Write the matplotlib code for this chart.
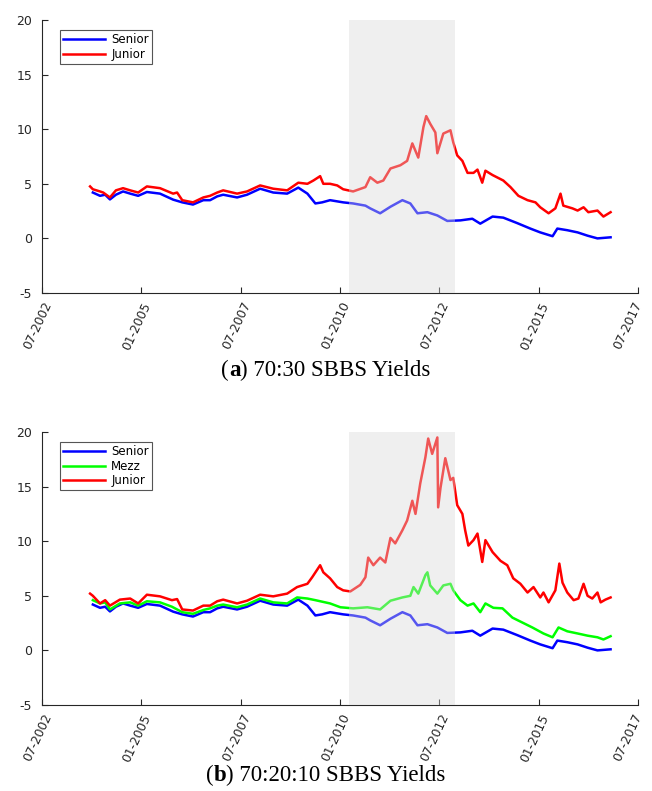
import matplotlib
matplotlib.use('Agg')
import matplotlib.pyplot as plt
from matplotlib.transforms import ScaledTranslation

# ---------------- data (decimal years, yields in %) ----------------
senior_t = [2003.78, 2003.96, 2004.09, 2004.21, 2004.36, 2004.54, 2004.72, 2004.92, 2005.14,
            2005.47, 2005.80, 2006.03, 2006.30, 2006.56, 2006.73, 2006.91, 2007.06, 2007.41,
            2007.66, 2007.99, 2008.32, 2008.67, 2008.95, 2009.18, 2009.38, 2009.55, 2009.75,
            2010.08, 2010.33, 2010.64, 2010.76, 2011.01, 2011.27, 2011.57, 2011.77, 2011.95,
            2012.20, 2012.45, 2012.70, 2013.03, 2013.33, 2013.53, 2013.84, 2014.11, 2014.46,
            2014.79, 2015.04, 2015.35, 2015.47, 2015.72, 2015.98, 2016.23, 2016.48, 2016.81]
senior = [4.2, 3.9, 4.0, 3.57, 4.0, 4.3, 4.1, 3.9, 4.25,
          4.1, 3.55, 3.3, 3.1, 3.5, 3.5, 3.85, 4.0, 3.75,
          4.0, 4.55, 4.2, 4.1, 4.65, 4.1, 3.2, 3.3, 3.5,
          3.3, 3.2, 3.0, 2.75, 2.3, 2.9, 3.5, 3.2, 2.3,
          2.4, 2.1, 1.6, 1.65, 1.8, 1.35, 2.0, 1.9, 1.4,
          0.9, 0.55, 0.2, 0.9, 0.75, 0.55, 0.25, 0.0, 0.1]

junior_a_t = [2003.71, 2003.78, 2003.96, 2004.04, 2004.21, 2004.36, 2004.54, 2004.72, 2004.92,
              2005.14, 2005.47, 2005.80, 2005.90, 2006.03, 2006.30, 2006.56, 2006.73, 2006.91,
              2007.06, 2007.41, 2007.66, 2007.99, 2008.32, 2008.67, 2008.95, 2009.18, 2009.33,
              2009.50, 2009.58, 2009.75, 2009.93, 2010.08, 2010.33, 2010.64, 2010.76, 2010.94,
              2011.09, 2011.27, 2011.52, 2011.69, 2011.82, 2011.97, 2012.10, 2012.17, 2012.27,
              2012.40, 2012.45, 2012.60, 2012.78, 2012.85, 2012.95, 2013.08, 2013.21, 2013.36,
              2013.46, 2013.58, 2013.66, 2013.84, 2014.11, 2014.29, 2014.49, 2014.72, 2014.92,
              2015.04, 2015.25, 2015.42, 2015.55, 2015.62, 2015.85, 2015.98, 2016.13, 2016.25,
              2016.48, 2016.63, 2016.81]
junior_a = [4.76, 4.5, 4.3, 4.2, 3.75, 4.4, 4.6, 4.4, 4.2,
            4.76, 4.6, 4.1, 4.2, 3.5, 3.3, 3.75, 3.9, 4.2,
            4.4, 4.1, 4.3, 4.85, 4.55, 4.4, 5.1, 5.0, 5.3,
            5.7, 5.0, 5.0, 4.85, 4.5, 4.3, 4.7, 5.6, 5.1,
            5.3, 6.4, 6.7, 7.1, 8.7, 7.4, 10.2, 11.2, 10.5,
            9.7, 7.8, 9.6, 9.9, 8.8, 7.6, 7.1, 6.0, 6.0,
            6.3, 5.1, 6.2, 5.8, 5.3, 4.7, 3.9, 3.5, 3.3,
            2.85, 2.3, 2.75, 4.1, 3.0, 2.75, 2.55, 2.85, 2.4,
            2.55, 2.0, 2.4]

mezz_t = [2003.78, 2003.96, 2004.09, 2004.21, 2004.46, 2004.72, 2004.92, 2005.14, 2005.47,
          2005.77, 2006.03, 2006.30, 2006.56, 2006.73, 2006.91, 2007.06, 2007.41, 2007.66,
          2007.99, 2008.32, 2008.67, 2008.92, 2009.18, 2009.38, 2009.75, 2010.01, 2010.33,
          2010.69, 2011.01, 2011.27, 2011.57, 2011.77, 2011.85, 2011.97, 2012.15, 2012.20,
          2012.27, 2012.45, 2012.60, 2012.78, 2012.85, 2013.03, 2013.21, 2013.36, 2013.53,
          2013.66, 2013.86, 2014.09, 2014.34, 2014.59, 2014.84, 2015.12, 2015.35, 2015.50,
          2015.72, 2015.98, 2016.23, 2016.48, 2016.63, 2016.81]
mezz = [4.6, 4.3, 4.4, 3.75, 4.3, 4.4, 4.1, 4.5, 4.4,
        4.0, 3.5, 3.35, 3.7, 3.85, 4.1, 4.2, 3.95, 4.2,
        4.75, 4.4, 4.3, 4.85, 4.75, 4.6, 4.3, 3.95, 3.85,
        3.95, 3.75, 4.55, 4.85, 5.0, 5.8, 5.2, 6.9, 7.15,
        5.95, 5.2, 5.95, 6.1, 5.5, 4.6, 4.1, 4.3, 3.5,
        4.3, 3.9, 3.85, 3.0, 2.55, 2.1, 1.55, 1.2, 2.1,
        1.75, 1.55, 1.35, 1.2, 1.0, 1.3]

junior_b_t = [2003.71, 2003.78, 2003.96, 2004.09, 2004.21, 2004.46, 2004.72, 2004.92, 2005.14,
              2005.47, 2005.77, 2005.90, 2006.03, 2006.30, 2006.56, 2006.73, 2006.91, 2007.06,
              2007.41, 2007.66, 2007.99, 2008.32, 2008.67, 2008.92, 2009.18, 2009.30, 2009.50,
              2009.58, 2009.75, 2009.93, 2010.08, 2010.26, 2010.51, 2010.64, 2010.71, 2010.84,
              2011.01, 2011.14, 2011.27, 2011.39, 2011.57, 2011.69, 2011.82, 2011.90, 2012.02,
              2012.15, 2012.22, 2012.32, 2012.45, 2012.47, 2012.53, 2012.65, 2012.78, 2012.85,
              2012.95, 2013.08, 2013.15, 2013.23, 2013.36, 2013.46, 2013.58, 2013.66, 2013.84,
              2014.04, 2014.21, 2014.36, 2014.54, 2014.72, 2014.87, 2015.04, 2015.12, 2015.25,
              2015.42, 2015.52, 2015.60, 2015.72, 2015.88, 2016.00, 2016.13, 2016.23, 2016.35,
              2016.48, 2016.56, 2016.68, 2016.81]
junior_b = [5.2, 5.0, 4.3, 4.6, 4.1, 4.65, 4.75, 4.3, 5.1,
            4.95, 4.6, 4.7, 3.75, 3.65, 4.1, 4.1, 4.5, 4.65,
            4.3, 4.55, 5.1, 4.95, 5.2, 5.8, 6.1, 6.7, 7.8,
            7.15, 6.6, 5.8, 5.5, 5.4, 6.0, 6.7, 8.5, 7.8,
            8.5, 8.05, 10.3, 9.8, 11.0, 11.9, 13.7, 12.5, 15.3,
            17.7, 19.4, 18.0, 19.5, 13.1, 14.9, 17.6, 15.6, 15.8,
            13.3, 12.5, 11.0, 9.6, 10.1, 10.7, 8.1, 10.1, 9.0,
            8.2, 7.8, 6.6, 6.1, 5.3, 5.8, 4.85, 5.3, 4.4,
            5.5, 7.95, 6.2, 5.3, 4.6, 4.75, 6.1, 5.0, 4.75,
            5.3, 4.4, 4.65, 4.85]

crisis = (2010.23, 2012.90)
xticks = [2002.5, 2005.0, 2007.5, 2010.0, 2012.5, 2015.0, 2017.5]
xticklabels = ['07-2002', '01-2005', '07-2007', '01-2010', '07-2012', '01-2015', '07-2017']
yticks = [-5, 0, 5, 10, 15, 20]

# ---------------- drawing ----------------
W, H = 652, 791
fig = plt.figure(figsize=(W / 100, H / 100), dpi=100)
axc = '#262626'


def style_axes(ax):
    ax.set_xlim(2002.5, 2017.5)
    ax.set_ylim(-5, 20)
    ax.set_xticks(xticks)
    ax.set_xticklabels([])
    # rotated date labels, drawn as text at each tick (last one nudged inside the figure)
    base = ax.get_xaxis_transform()
    for i, (xv, lab) in enumerate(zip(xticks, xticklabels)):
        dx = -4 if i < len(xticks) - 1 else -10
        tr = base + ScaledTranslation(dx / 100, -7 / 100, fig.dpi_scale_trans)
        ax.text(xv, 0, lab, transform=tr, rotation=65, ha='center', va='top',
                family='DejaVu Sans', fontsize=8.8, color=axc, clip_on=False)
    ax.set_yticks(yticks)
    ax.set_yticklabels([str(v) for v in yticks], family='DejaVu Sans', fontsize=9, color=axc)
    ax.tick_params(direction='in', length=4, width=0.8, color=axc, pad=7)
    for s in ('top', 'right'):
        ax.spines[s].set_visible(False)
    for s in ('left', 'bottom'):
        ax.spines[s].set_color(axc)
        ax.spines[s].set_linewidth(0.8)
    ax.axvspan(crisis[0], crisis[1], facecolor='#d8d8d8', alpha=0.4, edgecolor='none', zorder=5)


def legend(ax):
    leg = ax.legend(loc='upper left', bbox_to_anchor=(18 / 596, 1 - 10 / 273),
                    borderaxespad=0, handlelength=3.6, handletextpad=0.5,
                    borderpad=0.25, labelspacing=0.15,
                    fancybox=False, framealpha=1, edgecolor='#555555',
                    prop={'family': 'DejaVu Sans', 'size': 8.5})
    leg.get_frame().set_linewidth(0.8)
    leg.set_zorder(10)


ax1 = fig.add_axes([42 / W, 1 - 293 / H, 596 / W, 273 / H])
ax1.plot(senior_t, senior, color='#0000ff', lw=1.8, label='Senior', zorder=3)
ax1.plot(junior_a_t, junior_a, color='#ff0000', lw=1.8, label='Junior', zorder=3)
style_axes(ax1)
legend(ax1)

ax2 = fig.add_axes([42 / W, 1 - 705 / H, 596 / W, 273 / H])
ax2.plot(senior_t, senior, color='#0000ff', lw=1.8, label='Senior', zorder=3)
ax2.plot(mezz_t, mezz, color='#00ff00', lw=1.8, label='Mezz', zorder=3)
ax2.plot(junior_b_t, junior_b, color='#ff0000', lw=1.8, label='Junior', zorder=3)
style_axes(ax2)
legend(ax2)


def caption(y_px, label, rest, cx_px=326):
    r = fig.canvas.get_renderer()
    parts = [('(', 'normal'), (label, 'bold'), (') ' + rest, 'normal')]
    texts = [fig.text(0, 1 - y_px / H, s, fontsize=16.5, family='Liberation Serif',
                      weight=w, va='baseline', ha='left') for s, w in parts]
    widths = [t.get_window_extent(r).width for t in texts]
    x = cx_px - sum(widths) / 2
    for t, w in zip(texts, widths):
        t.set_x(x / W)
        x += w


caption(376, 'a', '70:30 SBBS Yields')
caption(781, 'b', '70:20:10 SBBS Yields')

fig.savefig('out.png', dpi=100)
